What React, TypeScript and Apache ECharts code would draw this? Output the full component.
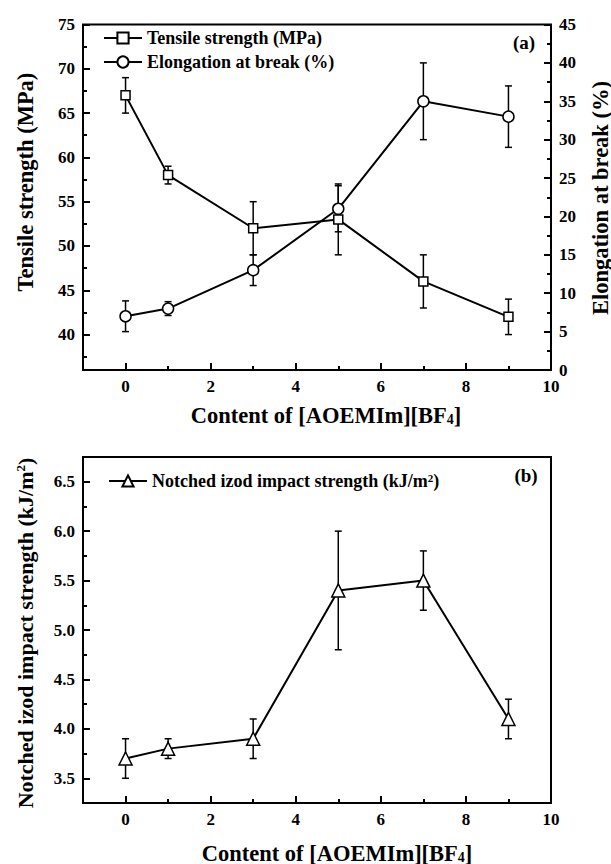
import React, { useEffect, useRef } from "react";
import * as echarts from "echarts";

const xValues = [0, 1, 3, 5, 7, 9];
const tensile = [67, 58, 52, 53, 46, 42];
const tensileErr = [2, 1, 3, 4, 3, 2];
const elongation = [7, 8, 13, 21, 35, 33];
const elongationErr = [2, 0.9, 2, 3, 5, 4];
const impact = [3.7, 3.8, 3.9, 5.4, 5.5, 4.1];
const impactErr = [0.2, 0.1, 0.2, 0.6, 0.3, 0.2];

const xMajor = [0, 2, 4, 6, 8, 10];
const xMinor = [1, 3, 5, 7, 9];
const tensileTicks = [40, 45, 50, 55, 60, 65, 70, 75];
const tensileMinor = [37.5, 42.5, 47.5, 52.5, 57.5, 62.5, 67.5, 72.5];
const elongTicks = [0, 5, 10, 15, 20, 25, 30, 35, 40, 45];
const elongMinor = [2.5, 7.5, 12.5, 17.5, 22.5, 27.5, 32.5, 37.5, 42.5];
const impactTicks = [3.5, 4.0, 4.5, 5.0, 5.5, 6.0, 6.5];
const impactMinor = [3.75, 4.25, 4.75, 5.25, 5.75, 6.25];

const FONT = "Liberation Serif";
const topRect = { left: 83, right: 60, top: 24.5, height: 345.5 };
const botRect = { left: 83, right: 60, top: 457, height: 346 };

function labelAxis(extra: any, ticks: number[], fmt?: (v: number) => string) {
  return {
    type: "value",
    axisLine: { show: false, onZero: false },
    splitLine: { show: false },
    axisTick: { show: false },
    axisLabel: {
      show: true, fontSize: 17, fontWeight: "bold", fontFamily: FONT, color: "#000", margin: 8,
      customValues: ticks, formatter: fmt ? fmt : (v: number) => String(v),
    },
    ...extra,
  };
}
function tickAxis(extra: any, ticks: number[], len: number) {
  return {
    type: "value",
    axisLine: { show: false, onZero: false },
    splitLine: { show: false },
    axisTick: { show: true, inside: true, length: len, lineStyle: { color: "#000", width: 2 }, customValues: ticks },
    axisLabel: { show: false },
    ...extra,
  };
}

function errorSeries(xi: number, yi: number, vals: number[], errs: number[]) {
  return {
    type: "custom",
    xAxisIndex: xi,
    yAxisIndex: yi,
    z: 1,
    silent: true,
    encode: { x: 0, y: [1, 2] },
    data: xValues.map((x, i) => [x, vals[i] - errs[i], vals[i] + errs[i]]),
    renderItem: (params: any, api: any) => {
      const x = api.value(0);
      const p1 = api.coord([x, api.value(1)]);
      const p2 = api.coord([x, api.value(2)]);
      const w = 3.5;
      const st = { stroke: "#000", lineWidth: 1.5 };
      return {
        type: "group",
        children: [
          { type: "line", shape: { x1: p1[0], y1: p1[1], x2: p2[0], y2: p2[1] }, style: st },
          { type: "line", shape: { x1: p1[0] - w, y1: p1[1], x2: p1[0] + w, y2: p1[1] }, style: st },
          { type: "line", shape: { x1: p2[0] - w, y1: p2[1], x2: p2[0] + w, y2: p2[1] }, style: st },
        ],
      };
    },
  };
}

function lineSeries(name: string, xi: number, yi: number, vals: number[], symbol: string, size: number) {
  return {
    type: "line",
    name,
    xAxisIndex: xi,
    yAxisIndex: yi,
    symbol,
    symbolSize: size,
    showAllSymbol: true,
    data: xValues.map((x, i) => [x, vals[i]]),
    lineStyle: { color: "#000", width: 2 },
    itemStyle: { color: "#fff", borderColor: "#000", borderWidth: 1.5 },
  };
}

const titleFont = (size: number) => ({ fontSize: size, fontWeight: "bold", fontFamily: FONT, fill: "#000" });
const legendText = { fontSize: 18, fontWeight: "bold", fontFamily: FONT, color: "#000" };
const subRich = { sub: { fontSize: 14, fontWeight: "bold", fontFamily: FONT, fill: "#000", verticalAlign: "bottom", padding: [9, 0, 0, 0] } };

function mainOption(): any {
  return {
    animation: false,
    grid: [{ ...topRect }, { ...topRect }, { ...botRect }],
    xAxis: [
      labelAxis({ gridIndex: 0, min: -1, max: 10, position: "bottom" }, xMajor),
      { gridIndex: 1, type: "value", min: -1, max: 10, show: false },
      labelAxis({ gridIndex: 2, min: -1, max: 10, position: "bottom" }, xMajor),
    ],
    yAxis: [
      labelAxis({ gridIndex: 0, min: 36, max: 75, position: "left" }, tensileTicks),
      labelAxis({ gridIndex: 1, min: 0, max: 45, position: "right" }, elongTicks),
      labelAxis({ gridIndex: 2, min: 3.25, max: 6.75, position: "left" }, impactTicks, (v: number) => v.toFixed(1)),
    ],
    legend: [
      {
        data: ["Tensile strength (MPa)", "Elongation at break (%)"],
        orient: "vertical",
        left: 98,
        top: 24,
        itemWidth: 38,
        itemHeight: 14,
        itemGap: 6,
        selectedMode: false,
        textStyle: legendText,
      },
      {
        data: ["Notched izod impact strength"],
        orient: "vertical",
        left: 103,
        top: 467,
        itemWidth: 38,
        itemHeight: 14,
        selectedMode: false,
        formatter: (n: string) => n + " (kJ/m{sup|2})",
        textStyle: {
          ...legendText,
          rich: { sup: { fontSize: 11, fontWeight: "bold", fontFamily: FONT, color: "#000", verticalAlign: "top", padding: [0, 0, 6, 0] } },
        },
      },
    ],
    series: [
      errorSeries(0, 0, tensile, tensileErr),
      lineSeries("Tensile strength (MPa)", 0, 0, tensile, "rect", 9),
      errorSeries(1, 1, elongation, elongationErr),
      lineSeries("Elongation at break (%)", 1, 1, elongation, "circle", 11),
      errorSeries(2, 2, impact, impactErr),
      lineSeries("Notched izod impact strength", 2, 2, impact, "triangle", 13),
    ],
    graphic: [
      { type: "text", x: 25, y: 182, rotation: Math.PI / 2, style: { text: "Tensile strength (MPa)", align: "center", verticalAlign: "middle", ...titleFont(22.5) } },
      { type: "text", x: 600, y: 198, rotation: Math.PI / 2, style: { text: "Elongation at break (%)", align: "center", verticalAlign: "middle", ...titleFont(22.5) } },
      { type: "text", x: 326, y: 415, style: { text: "Content of [AOEMIm][BF{sub|4}]", align: "center", verticalAlign: "middle", ...titleFont(22.5), rich: subRich } },
      { type: "text", x: 524, y: 42, style: { text: "(a)", align: "center", verticalAlign: "middle", ...titleFont(19) } },
      {
        type: "text", x: 25, y: 633, rotation: Math.PI / 2,
        style: {
          text: "Notched izod impact strength (kJ/m{sup|2})", align: "center", verticalAlign: "middle", ...titleFont(22),
          rich: { sup: { fontSize: 13, fontWeight: "bold", fontFamily: FONT, fill: "#000", verticalAlign: "top", padding: [0, 0, 9, 0] } },
        },
      },
      { type: "text", x: 526, y: 475, style: { text: "(b)", align: "center", verticalAlign: "middle", ...titleFont(19) } },
      { type: "text", x: 337, y: 853, style: { text: "Content of [AOEMIm][BF{sub|4}]", align: "center", verticalAlign: "middle", ...titleFont(22.5), rich: subRich } },
    ],
  };
}

// frame and tick marks, kept in a plain chart with only axes
function frameOption(): any {
  return {
    animation: false,
    grid: [
      { ...topRect, show: true, borderColor: "#000", borderWidth: 2 },
      { ...topRect },
      { ...botRect, show: true, borderColor: "#000", borderWidth: 2 },
    ],
    xAxis: [
      tickAxis({ gridIndex: 0, min: -1, max: 10, position: "bottom" }, xMajor, 7),
      tickAxis({ gridIndex: 0, min: -1, max: 10, position: "bottom" }, xMinor, 4),
      { gridIndex: 1, type: "value", min: -1, max: 10, show: false },
      tickAxis({ gridIndex: 2, min: -1, max: 10, position: "bottom" }, xMajor, 7),
      tickAxis({ gridIndex: 2, min: -1, max: 10, position: "bottom" }, xMinor, 4),
    ],
    yAxis: [
      tickAxis({ gridIndex: 0, min: 36, max: 75, position: "left" }, tensileTicks, 7),
      tickAxis({ gridIndex: 0, min: 36, max: 75, position: "left" }, tensileMinor, 4),
      tickAxis({ gridIndex: 1, min: 0, max: 45, position: "right" }, elongTicks, 7),
      tickAxis({ gridIndex: 1, min: 0, max: 45, position: "right" }, elongMinor, 4),
      tickAxis({ gridIndex: 2, min: 3.25, max: 6.75, position: "left" }, impactTicks, 7),
      tickAxis({ gridIndex: 2, min: 3.25, max: 6.75, position: "left" }, impactMinor, 4),
    ],
    series: [],
  };
}

export default function App() {
  const mainRef = useRef<HTMLDivElement>(null);
  const frameRef = useRef<HTMLDivElement>(null);
  useEffect(() => {
    if (!mainRef.current || !frameRef.current) return;
    const main = echarts.init(mainRef.current, null, { renderer: "svg" });
    main.setOption(mainOption());
    const frame = echarts.init(frameRef.current, null, { renderer: "svg" });
    frame.setOption(frameOption());
    return () => {
      main.dispose();
      frame.dispose();
    };
  }, []);
  return (
    <div style={{ position: "fixed", left: 0, top: 0, width: 611, height: 864, background: "#fff" }}>
      <div ref={mainRef} style={{ position: "absolute", left: 0, top: 0, width: 611, height: 864 }} />
      <div ref={frameRef} style={{ position: "absolute", left: 0, top: 0, width: 611, height: 864, pointerEvents: "none" }} />
    </div>
  );
}
